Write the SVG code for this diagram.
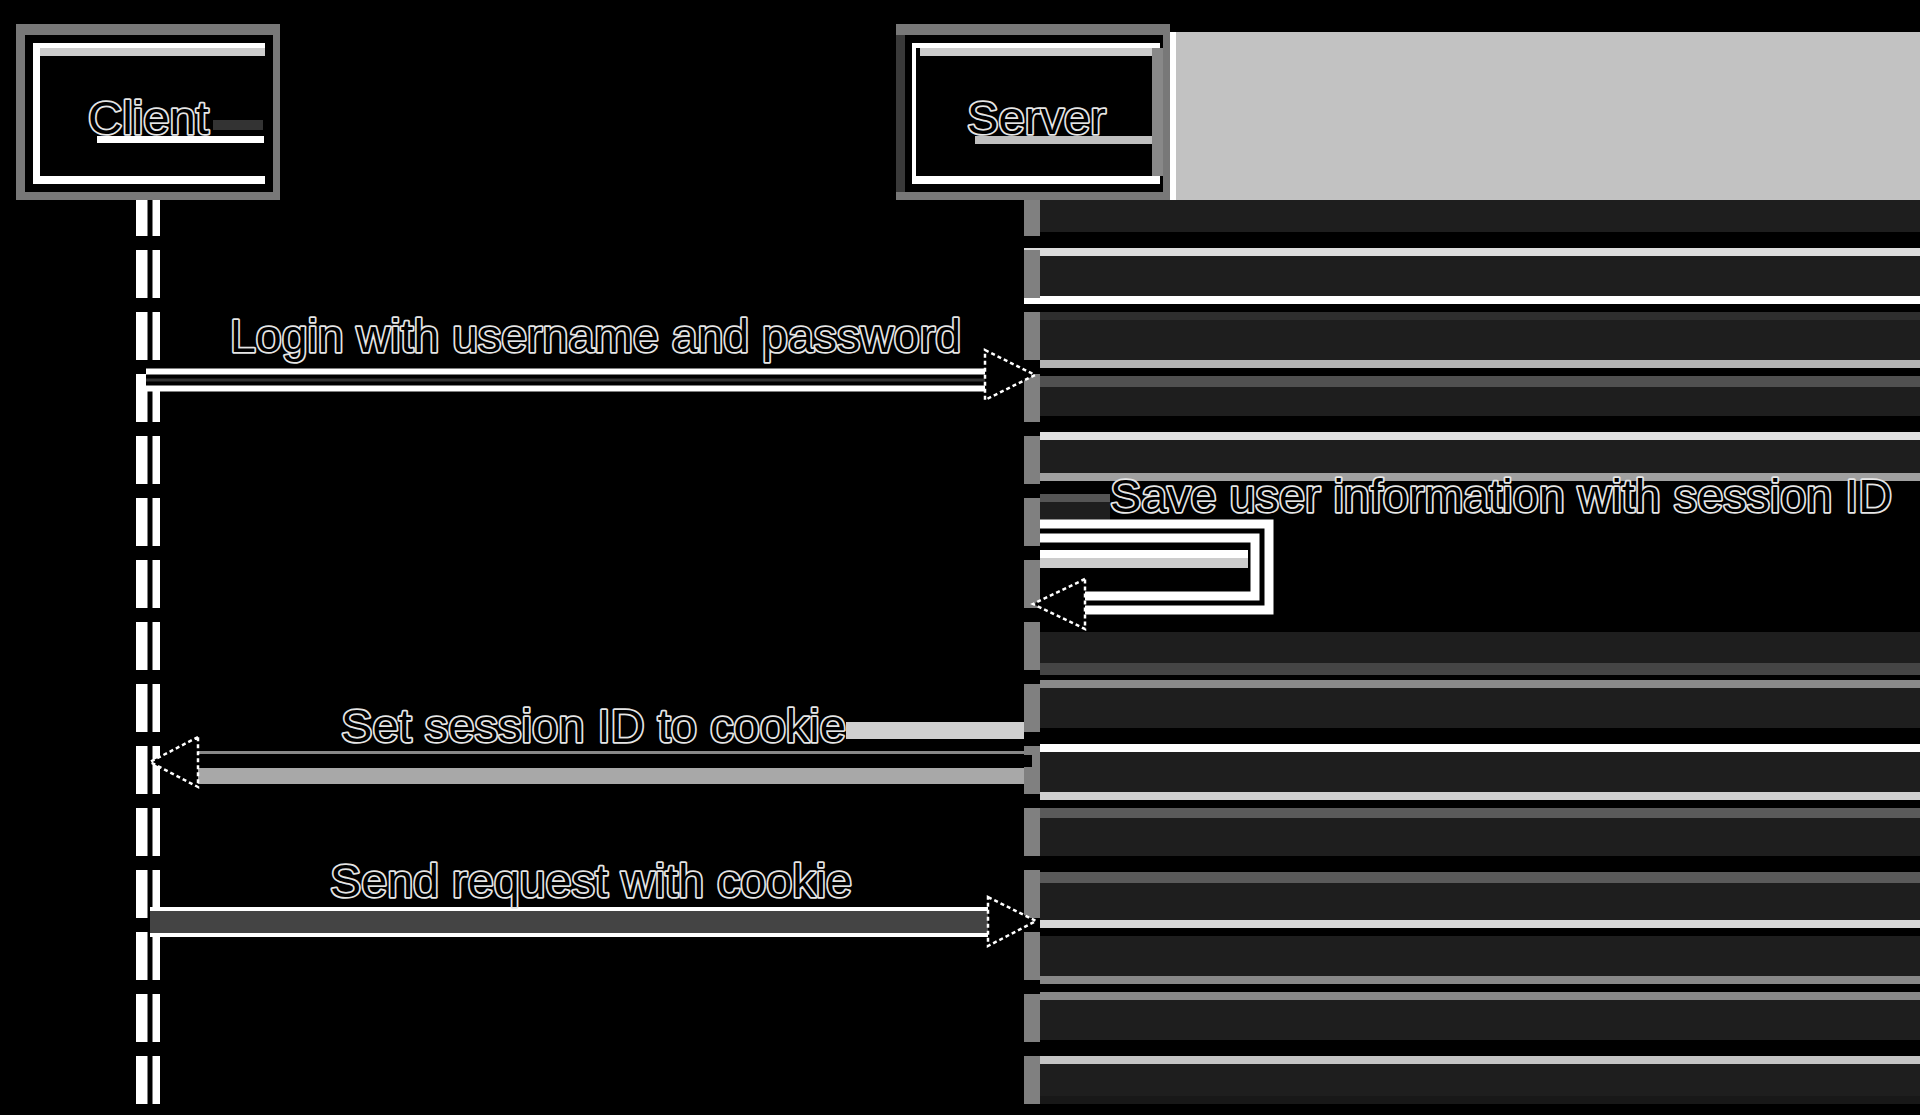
<svg xmlns="http://www.w3.org/2000/svg" width="1920" height="1115" viewBox="0 0 1920 1115">
<style>
.lbl{font-family:"Liberation Sans",Arial,sans-serif;font-size:47px;fill:#000;stroke:#e6e6e6;stroke-width:3.5;paint-order:stroke;stroke-linejoin:round}
.halo{fill:none;stroke:#fff;stroke-width:23}
.core{fill:none;stroke:#000;stroke-width:11}
.mid{fill:none;stroke:#333;stroke-width:3}
.head{fill:#000;stroke:#fff;stroke-width:2.5;stroke-dasharray:4 3}
.dk{fill:#1e1e1e}
</style>
<rect x="0" y="0" width="1920" height="1115" fill="#000"/>
<g id="backdrop">
<rect x="1176" y="32" width="744" height="168" fill="#c2c2c2"/>
<rect class="dk" x="1040" y="200" width="880" height="32"/>
<rect x="1024" y="248" width="896" height="8" fill="#dcdcdc"/>
<rect class="dk" x="1040" y="256" width="880" height="40"/>
<rect x="1024" y="296" width="896" height="8" fill="#fff"/>
<rect x="1040" y="312" width="880" height="8" fill="#2e2e2e"/>
<rect class="dk" x="1040" y="320" width="880" height="40"/>
<rect x="1040" y="360" width="880" height="8" fill="#b4b4b4"/>
<rect x="1040" y="376" width="880" height="11" fill="#505050"/>
<rect class="dk" x="1040" y="387" width="880" height="29"/>
<rect x="1040" y="432" width="880" height="8" fill="#e0e0e0"/>
<rect class="dk" x="1040" y="440" width="880" height="33"/>
<rect x="1024" y="473" width="896" height="8" fill="#a0a0a0"/>
<rect x="1040" y="494" width="70" height="8" fill="#555"/>
<rect class="dk" x="1040" y="502" width="70" height="18"/>
<rect x="1040" y="550" width="208" height="8" fill="#fff"/>
<rect x="1040" y="558" width="208" height="10" fill="#ccc"/>
<rect class="dk" x="1040" y="632" width="880" height="31"/>
<rect x="1040" y="663" width="880" height="12" fill="#454545"/>
<rect x="1040" y="680" width="880" height="8" fill="#8a8a8a"/>
<rect class="dk" x="1040" y="688" width="880" height="40"/>
<rect x="1040" y="744" width="880" height="8" fill="#fff"/>
<rect class="dk" x="1040" y="752" width="880" height="40"/>
<rect x="1040" y="792" width="880" height="8" fill="#d0d0d0"/>
<rect x="1040" y="808" width="880" height="10" fill="#5a5a5a"/>
<rect class="dk" x="1040" y="818" width="880" height="38"/>
<rect x="1040" y="872" width="880" height="11" fill="#5a5a5a"/>
<rect class="dk" x="1040" y="883" width="880" height="37"/>
<rect x="1040" y="920" width="880" height="8" fill="#d8d8d8"/>
<rect class="dk" x="1040" y="936" width="880" height="40"/>
<rect x="1040" y="976" width="880" height="8" fill="#888"/>
<rect x="1040" y="992" width="880" height="8" fill="#888"/>
<rect class="dk" x="1040" y="1000" width="880" height="40"/>
<rect x="1040" y="1056" width="880" height="8" fill="#c4c4c4"/>
<rect class="dk" x="1040" y="1064" width="880" height="32"/>
<rect x="1040" y="1096" width="880" height="8" fill="#181818"/>
</g>
<g id="client">
<rect x="16" y="24" width="264" height="176" fill="#787878"/>
<rect x="25" y="35" width="248" height="157" fill="#000"/>
<rect x="33" y="43" width="232" height="5" fill="#fff"/>
<rect x="40" y="48" width="225" height="8" fill="#ccc"/>
<rect x="33" y="43" width="7" height="141" fill="#fff"/>
<rect x="33" y="176" width="232" height="8" fill="#fff"/>
<rect x="97" y="136" width="167" height="7" fill="#fff"/>
<rect x="213" y="120" width="50" height="10" fill="#333"/>
<text class="lbl" x="88" y="134" textLength="121" lengthAdjust="spacingAndGlyphs">Client</text>
<line x1="148" y1="200" x2="148" y2="1104" stroke="#fff" stroke-width="24" stroke-dasharray="48 14" stroke-dashoffset="12"/>
<line x1="150" y1="200" x2="150" y2="1104" stroke="#000" stroke-width="5" stroke-dasharray="48 14" stroke-dashoffset="12"/>
</g>
<g id="server">
<rect x="896" y="24" width="274" height="176" fill="#787878"/>
<rect x="896" y="35" width="9" height="157" fill="#3a3a3a"/>
<rect x="905" y="35" width="258" height="157" fill="#000"/>
<rect x="1170" y="32" width="6" height="168" fill="#fff"/>
<rect x="912" y="43" width="248" height="5" fill="#fff"/>
<rect x="920" y="48" width="232" height="8" fill="#ccc"/>
<rect x="912" y="43" width="4" height="141" fill="#fff"/>
<rect x="1152" y="48" width="11" height="128" fill="#888"/>
<rect x="912" y="176" width="248" height="8" fill="#fff"/>
<rect x="975" y="136" width="177" height="8" fill="#c0c0c0"/>
<text class="lbl" x="967" y="134" textLength="139" lengthAdjust="spacingAndGlyphs">Server</text>
<line x1="1032" y1="200" x2="1032" y2="1104" stroke="#808080" stroke-width="16" stroke-dasharray="48 14" stroke-dashoffset="12"/>
</g>
<g id="connectors">
<g id="msg1">
<path class="halo" d="M146,380 H985"/>
<path class="core" d="M146,380 H985"/>
<path class="mid" d="M146,380 H985"/>
<polygon class="head" points="985,350 1035,375 985,400"/>
<text class="lbl" x="230" y="352" textLength="731" lengthAdjust="spacingAndGlyphs">Login with username and password</text>
</g>
<g id="msg2">
<path class="halo" d="M1040,531 H1262 V603 H1085"/>
<path class="core" d="M1040,531 H1262 V603 H1085" style="stroke-width:5"/>
<polygon class="head" points="1085,579 1033,604 1085,629"/>
<text class="lbl" x="1110" y="512" textLength="782" lengthAdjust="spacingAndGlyphs">Save user information with session ID</text>
</g>
<g id="msg3">
<rect x="846" y="722" width="178" height="17" fill="#d0d0d0"/>
<rect x="198" y="751" width="826" height="3" fill="#888"/>
<rect x="198" y="768" width="826" height="16" fill="#a8a8a8"/>
<path d="M198,761 H1032" stroke="#000" stroke-width="12" fill="none"/>
<polygon class="head" points="198,737 150,762 198,787"/>
<text class="lbl" x="341" y="742" textLength="505" lengthAdjust="spacingAndGlyphs">Set session ID to cookie</text>
</g>
<g id="msg4">
<path d="M150,922 H988" stroke="#fff" stroke-width="30" fill="none"/>
<path d="M150,922 H988" stroke="#444" stroke-width="22" fill="none"/>
<polygon class="head" points="988,897 1036,921 988,946"/>
<text class="lbl" x="330" y="897" textLength="522" lengthAdjust="spacingAndGlyphs">Send request with cookie</text>
</g>
</g>
</svg>
